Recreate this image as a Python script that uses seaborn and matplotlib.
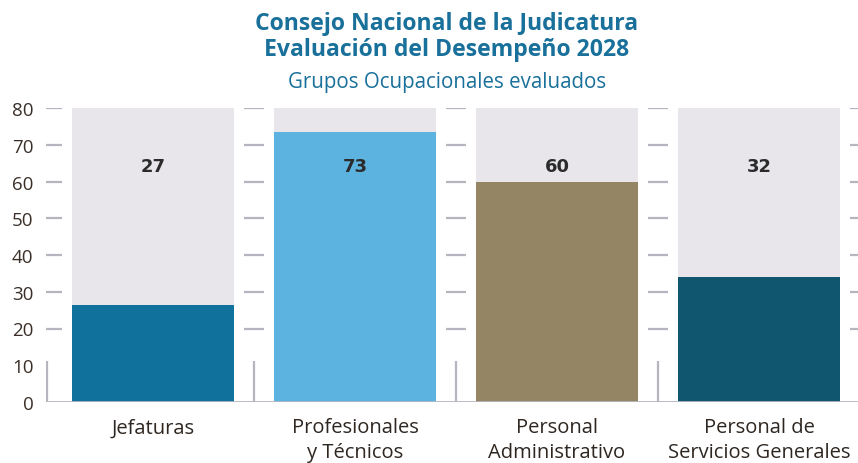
import numpy as np
import pandas as pd
import seaborn as sns
import matplotlib.pyplot as plt

# Data
grupos = ["Jefaturas", "Profesionales\ny Técnicos", "Personal\nAdministrativo", "Personal de\nServicios Generales"]
alturas = [26.5, 73.5, 60, 34]       # bar heights as drawn
etiquetas = ["27", "73", "60", "32"]  # numbers printed on the chart
fondo = [80, 80, 80, 80]
colores = ["#10729c", "#5db3e0", "#948565", "#10566e"]
yticks = [0, 10, 20, 30, 40, 50, 60, 70, 80]

sns.set_style("white")
plt.rcParams['font.family'] = ['Open Sans', 'DejaVu Sans']

df = pd.DataFrame({"grupo": grupos, "valor": alturas, "fondo": fondo})

fig = plt.figure(figsize=(8.58, 4.64), dpi=100)
ax = fig.add_axes([46 / 858, 61 / 464, 1 - 46 / 858, 294 / 464])

# gray background columns up to 80, then the real bars on top
sns.barplot(data=df, x="grupo", y="fondo", color="#e8e6eb", width=0.8, ax=ax,
            saturation=1, linewidth=0)
sns.barplot(data=df, x="grupo", y="valor", hue="grupo", palette=colores, width=0.8,
            legend=False, ax=ax, saturation=1, linewidth=0)

for i, txt in enumerate(etiquetas):
    ax.text(i, 64.3, txt, ha="center", va="center", fontsize=13, fontweight="bold",
            color="#2b2b2b", family="DejaVu Sans")

ax.set_xlim(-0.53, 3.49)
ax.set_ylim(0, 80)

# short gray dashes in the gaps between the columns
linea = "#b5b5c0"
for g in [-0.5, 0.5, 1.5, 2.5, 3.5]:
    ax.hlines(yticks[2:], g - 0.05, g + 0.05, color=linea, lw=1.6, clip_on=True)
for g in [-0.525, 0.5, 1.5, 2.5]:
    ax.vlines(g, 0, 11.2, color=linea, lw=1.6)
ax.axhline(0, color=linea, lw=2)

sns.despine(ax=ax, left=True, bottom=True)
ax.set_yticks(yticks)
ax.tick_params(axis="y", length=0, pad=9, labelsize=13.5, labelcolor="#3a2f28")
ax.tick_params(axis="x", length=0, pad=11, labelsize=14.5, labelcolor="#2e2620")
for lbl in ax.get_xticklabels():
    lbl.set_linespacing(1.32)
ax.set_xlabel("")
ax.set_ylabel("")

fig.text(0.521, 0.92, "Consejo Nacional de la Judicatura\nEvaluación del Desempeño 2028",
         ha="center", va="center", fontsize=16.6, fontweight="bold", color="#19709a",
         linespacing=1.12)
fig.text(0.521, 0.823, "Grupos Ocupacionales evaluados", ha="center", va="center",
         fontsize=14.8, color="#19709a")

fig.savefig("out.png", dpi=100)
